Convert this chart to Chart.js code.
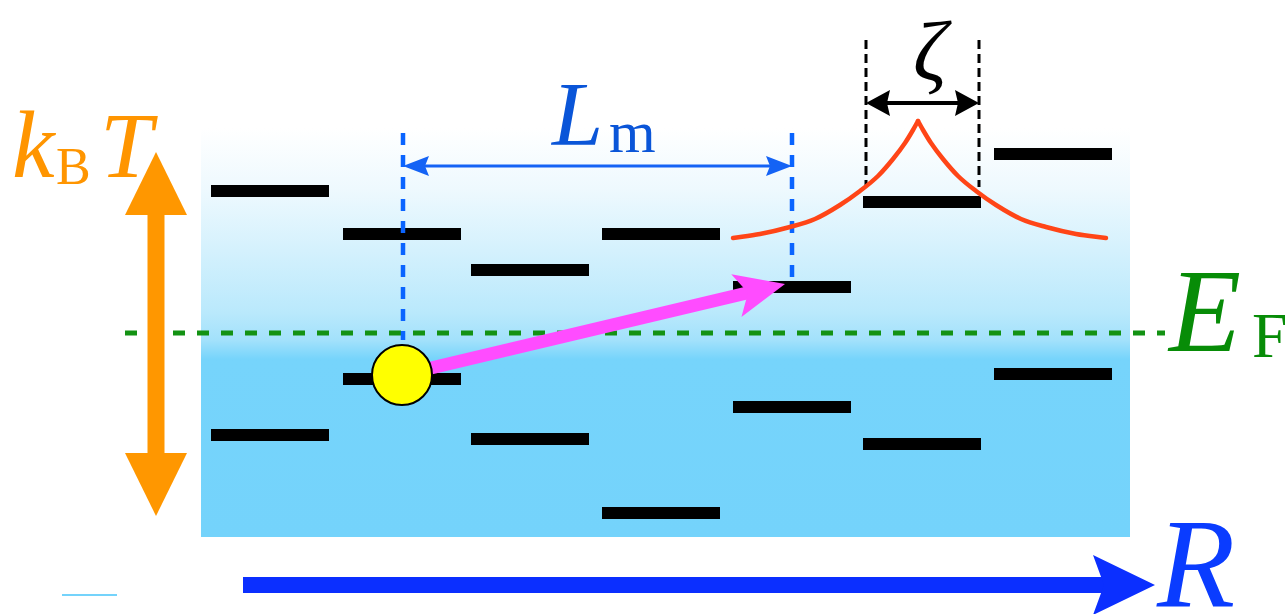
<!DOCTYPE html>
<html><head><meta charset="utf-8">
<script src="https://cdn.jsdelivr.net/npm/chart.js@4.4.1/dist/chart.umd.min.js"></script>
<style>html,body{margin:0;padding:0;background:#fff;overflow:hidden}canvas{display:block}</style>
</head><body>
<canvas id="c" width="1285" height="614"></canvas>
<script>
// ---- data (diagram units: x = position R, y = energy, downwards) ----
const levelStart  = [211, 343, 471, 602, 733, 863, 994, 343, 211, 471, 602, 733, 863, 994];
const levelEnd    = [329, 461, 589, 720, 851, 981, 1112, 461, 329, 589, 720, 851, 981, 1112];
const levelEnergy = [191, 234, 270, 234, 287, 202, 154, 379, 435, 439, 513, 407, 444, 374];
const fermiX = [125, 1165];
const fermiY = [333, 333];
const bandX = [201, 1130];
const bandY = [128, 537];
const electronX = [402];
const electronY = [375];
const hopX = [431, 785];
const hopY = [368, 284];
const lmArrowX = [403, 792];
const lmArrowY = [166, 166];
const lmGuideX = [403, 792];
const lmGuideTop = [133, 133];
const lmGuideBottom = [340, 287];
const xiArrowX = [866, 979];
const xiArrowY = [103, 103];
const xiGuideX = [866, 979];
const xiGuideTop = [40, 40];
const xiGuideBottom = [187, 187];
const waveLeftX  = [733, 760, 790, 815, 840, 860, 878, 893, 905, 913, 918];
const waveLeftY  = [238, 234, 227, 219, 205, 191, 176, 159, 143, 130, 121];
const waveRightX = [918, 923, 931, 943, 958, 976, 996, 1021, 1046, 1076, 1106];
const waveRightY = [121, 130, 143, 159, 176, 191, 205, 219, 227, 234, 238];
const thermalX = [156, 156];
const thermalY = [516, 152];
const axisX = [243, 1155];
const axisY = [585, 585];
const sampleX = [62, 117];
const sampleY = [595, 595];
const labelText = {kT: ['k', 'B', 'T'], lm: ['L', 'm'], ef: ['E', 'F'], xi: 'ζ', r: 'R'};

// ---- build datasets ----
const levelPts = [];
for (let i = 0; i < levelStart.length; i++) {
  levelPts.push({x: levelStart[i], y: levelEnergy[i]}, {x: levelEnd[i], y: levelEnergy[i]}, {x: levelEnd[i], y: null});
}
const pairs = (xs, ys) => xs.map((x, i) => ({x, y: ys[i]}));
const guides = (xs, top, bot) => {
  const out = [];
  xs.forEach((x, i) => { out.push({x, y: top[i]}, {x, y: bot[i]}, {x, y: null}); });
  return out;
};
const base = {showLine: true, pointRadius: 0, fill: false, tension: 0, spanGaps: false, borderCapStyle: 'butt'};
const waveStyle = {borderColor: '#ff4517', borderWidth: 4.5, cubicInterpolationMode: 'monotone', borderCapStyle: 'round', order: 1};

const datasets = [
  Object.assign({}, base, {label: 'electron', data: pairs(electronX, electronY), showLine: false, pointRadius: 30, pointBackgroundColor: '#ffff00', pointBorderColor: '#000', pointBorderWidth: 2, order: 0}),
  Object.assign({}, base, waveStyle, {label: 'waveLeft', data: pairs(waveLeftX, waveLeftY)}),
  Object.assign({}, base, waveStyle, {label: 'waveRight', data: pairs(waveRightX, waveRightY)}),
  Object.assign({}, base, {label: 'xiGuides', data: guides(xiGuideX, xiGuideTop, xiGuideBottom), borderColor: '#000', borderWidth: 3, borderDash: [9, 5], order: 2}),
  Object.assign({}, base, {label: 'lmGuides', data: guides(lmGuideX, lmGuideTop, lmGuideBottom), borderColor: '#0a64ff', borderWidth: 4.5, borderDash: [12, 10], order: 3}),
  Object.assign({}, base, {label: 'fermi', data: pairs(fermiX, fermiY), borderColor: '#139213', borderWidth: 5, borderDash: [12, 12], order: 4}),
  Object.assign({}, base, {label: 'levels', data: levelPts, borderColor: '#000', borderWidth: 12, order: 5}),
  Object.assign({}, base, {label: 'sample', data: pairs(sampleX, sampleY), borderColor: '#74d3fb', borderWidth: 2, order: 6})
];

// ---- drawing helpers ----
function drawArrow(ctx, p0, p1, o) {
  const dx = p1.x - p0.x, dy = p1.y - p0.y, L = Math.hypot(dx, dy);
  const ux = dx / L, uy = dy / L, nx = -uy, ny = ux;
  const head = (tip, sx, sy) => {
    const bx = tip.x - sx * o.headLen, by = tip.y - sy * o.headLen;
    const mx = tip.x - sx * (o.headLen - o.notch), my = tip.y - sy * (o.headLen - o.notch);
    ctx.beginPath();
    ctx.moveTo(tip.x, tip.y);
    ctx.lineTo(bx + (-sy) * o.headHalf, by + sx * o.headHalf);
    ctx.lineTo(mx, my);
    ctx.lineTo(bx - (-sy) * o.headHalf, by - sx * o.headHalf);
    ctx.closePath();
    ctx.fill();
  };
  ctx.save();
  ctx.fillStyle = o.color;
  const inset = o.headLen - o.notch - 1;
  const s = o.double ? {x: p0.x + ux * inset, y: p0.y + uy * inset} : p0;
  const e = {x: p1.x - ux * inset, y: p1.y - uy * inset};
  const hw = o.width / 2;
  ctx.beginPath();
  ctx.moveTo(s.x + nx * hw, s.y + ny * hw);
  ctx.lineTo(e.x + nx * hw, e.y + ny * hw);
  ctx.lineTo(e.x - nx * hw, e.y - ny * hw);
  ctx.lineTo(s.x - nx * hw, s.y - ny * hw);
  ctx.closePath();
  ctx.fill();
  head(p1, ux, uy);
  if (o.double) head(p0, -ux, -uy);
  ctx.restore();
}

const diagramPlugin = {
  id: 'diagram',
  beforeDatasetsDraw(chart) {
    const {ctx, scales: {x, y}} = chart;
    const x0 = x.getPixelForValue(bandX[0]), x1 = x.getPixelForValue(bandX[1]);
    const y0 = y.getPixelForValue(bandY[0]), y1 = y.getPixelForValue(bandY[1]);
    const g = ctx.createLinearGradient(0, y0, 0, y1);
    g.addColorStop(0, '#ffffff');
    g.addColorStop(0.15, '#eef9fe');
    g.addColorStop(0.45, '#bae9fc');
    g.addColorStop(0.52, '#a2e1fb');
    g.addColorStop(0.565, '#76d4fb');
    g.addColorStop(1, '#74d3fb');
    ctx.save();
    ctx.fillStyle = g;
    ctx.fillRect(x0, y0, x1 - x0, y1 - y0);
    ctx.restore();
  },
  beforeDatasetDraw(chart, args) {
    if (args.meta.label !== 'electron') return;
    const {ctx, scales: {x, y}} = chart;
    const P = (xs, ys, i) => ({x: x.getPixelForValue(xs[i]), y: y.getPixelForValue(ys[i])});
    drawArrow(ctx, P(thermalX, thermalY, 0), P(thermalX, thermalY, 1), {color: '#ff9700', width: 17, headLen: 63, headHalf: 31, notch: 0, double: true});
    drawArrow(ctx, P(axisX, axisY, 0), P(axisX, axisY, 1), {color: '#0b2fff', width: 16, headLen: 62, headHalf: 30, notch: 11, double: false});
    drawArrow(ctx, P(hopX, hopY, 0), P(hopX, hopY, 1), {color: '#ff4cff', width: 13, headLen: 50, headHalf: 22, notch: 12, double: false});
    drawArrow(ctx, P(lmArrowX, lmArrowY, 0), P(lmArrowX, lmArrowY, 1), {color: '#1463f5', width: 3, headLen: 26, headHalf: 10, notch: 4, double: true});
    drawArrow(ctx, P(xiArrowX, xiArrowY, 0), P(xiArrowX, xiArrowY, 1), {color: '#000', width: 4, headLen: 24, headHalf: 13, notch: 3, double: true});
  },
  afterDraw(chart) {
    const {ctx} = chart;
    const T = (s, px, py, font, color, align) => {
      ctx.save(); ctx.font = font; ctx.fillStyle = color; ctx.textAlign = align || 'left'; ctx.textBaseline = 'alphabetic';
      ctx.fillText(s, px, py); ctx.restore();
    };
    const serif = '"Liberation Serif", "DejaVu Serif", serif';
    T(labelText.kT[0], 12, 177, 'italic 96px ' + serif, '#ff9500');
    T(labelText.kT[1], 56, 184, '52px ' + serif, '#ff9500');
    T(labelText.kT[2], 100, 177, 'italic 94px ' + serif, '#ff9500');
    T(labelText.lm[0], 552, 145, 'italic 92px ' + serif, '#0a55d8');
    T(labelText.lm[1], 609, 152, '60px ' + serif, '#0a55d8');
    T(labelText.ef[0], 1169, 351, 'italic 118px ' + serif, '#078c07');
    T(labelText.ef[1], 1252, 357, '64px ' + serif, '#078c07');
    T(labelText.xi, 930, 80, 'italic 84px ' + serif, '#000', 'center');
    T(labelText.r, 1157, 607, 'italic 128px ' + serif, '#0a3cff');
  }
};

new Chart(document.getElementById('c'), {
  type: 'scatter',
  data: {datasets},
  options: {
    responsive: false,
    animation: false,
    events: [],
    layout: {padding: 0, autoPadding: false},
    plugins: {legend: {display: false}, tooltip: {enabled: false}},
    scales: {
      x: {type: 'linear', min: 0, max: 1285, display: false},
      y: {type: 'linear', min: 0, max: 614, reverse: true, display: false}
    }
  },
  plugins: [diagramPlugin]
});
</script>
</body></html>
